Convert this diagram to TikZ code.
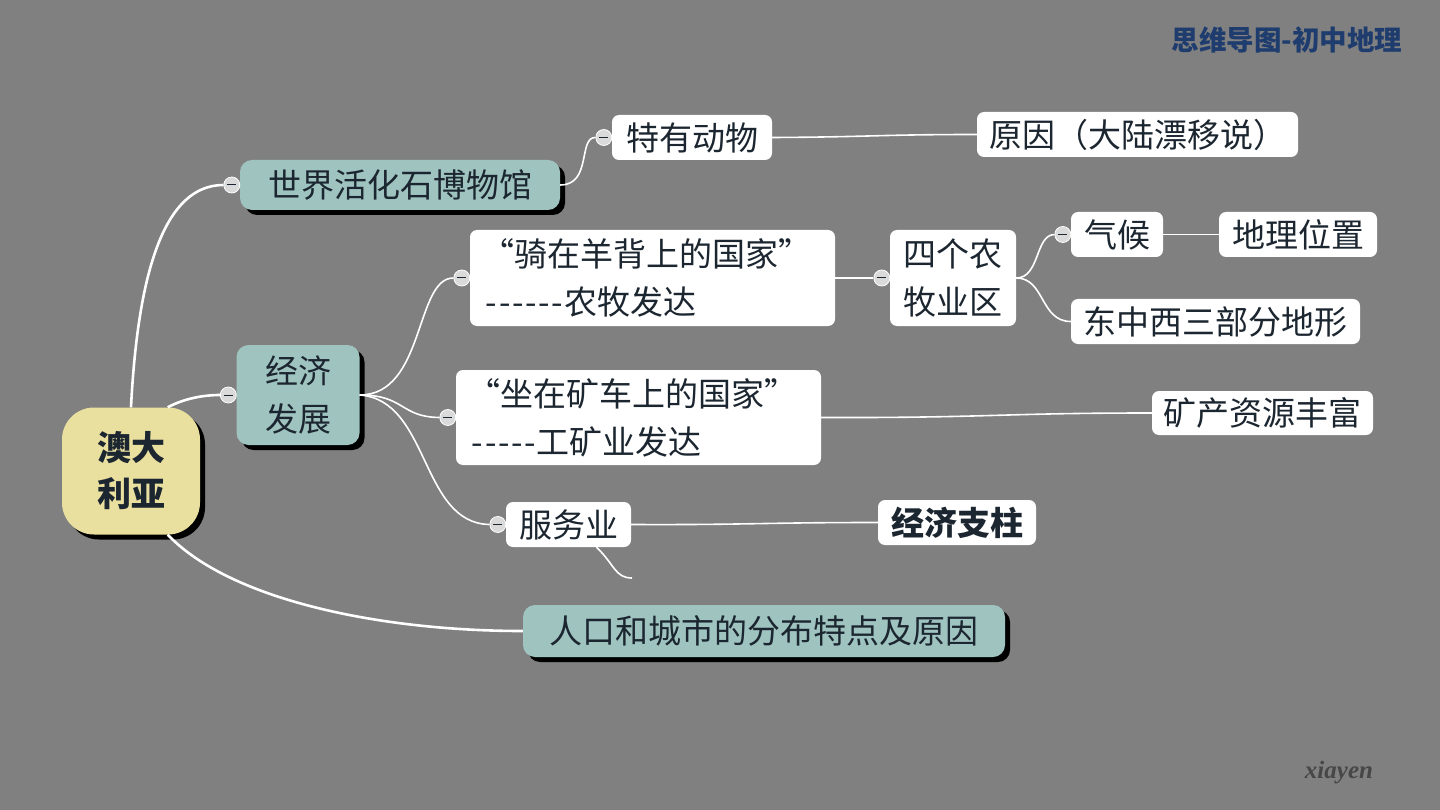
\documentclass[tikz,border=0pt]{standalone}
\usepackage{fontspec}
\setmainfont{Noto Sans CJK SC}[Ligatures=TeXOff]
\newfontfamily\signfont{Liberation Serif}
\usepackage{tikz}
\usetikzlibrary{calc,shadows}
\definecolor{mapBack}{HTML}{808080}
\definecolor{mapTeal}{HTML}{9FC4C0}
\definecolor{mapSand}{HTML}{E9E0A0}
\definecolor{mapInk}{HTML}{1C2630}
\definecolor{mapKnob}{HTML}{DADADA}
\definecolor{mapTitle}{HTML}{1F3C6E}
\newcommand{\bigtext}{\fontsize{33}{48}\selectfont}
\newcommand{\dashrun}[1]{\foreach \i in {1,...,#1}{\makebox[.4em]{-}}}

\begin{document}
\begin{tikzpicture}[x=1pt,y=-1pt]
  \tikzset{
    mapbox/.style={rounded corners=7pt,inner sep=0pt,align=center,text=mapInk,font=\bigtext},
    topic/.style={mapbox,fill=mapTeal,rounded corners=12pt,drop shadow={shadow xshift=5pt,shadow yshift=-5pt,opacity=1,fill=black}},
    leaf/.style={mapbox,fill=white},
    link/.style={draw=white,line width=1.6pt},
    trunk/.style={draw=white,line width=2.6pt},
    knob/.style={circle,draw=white,fill=mapKnob,line width=.8pt,minimum size=16pt,inner sep=0pt,
      path picture={\draw[mapInk,line width=1pt] ([xshift=-4.5pt]path picture bounding box.center) -- ([xshift=4.5pt]path picture bounding box.center);}}
  }
  \fill[mapBack] (0,0) rectangle (1440,810);
  \useasboundingbox (0,0) rectangle (1440,810);

  % corner marks
  \node[text=mapTitle,font=\fontsize{27.5}{30}\selectfont\bfseries] (title) at (1287,40) {思维导图-初中地理};
  \node[text=black!72,font=\signfont\fontsize{25}{28}\selectfont\bfseries\itshape] (sign) at (1339,773) {xiayen};

  % main topics
  \node[topic,fill=mapSand,rounded corners=32pt,minimum width=138pt,minimum height=127pt,font=\fontsize{34}{46}\selectfont\bfseries] (root) at (131,471) {澳大\\利亚};
  \node[topic,minimum width=320pt,minimum height=50pt] (fossil) at (400,185) {世界活化石博物馆};
  \node[topic,minimum width=123pt,minimum height=100pt] (econ) at (298,395) {经济\\发展};
  \node[topic,minimum width=482pt,minimum height=52pt] (people) at (764,631) {人口和城市的分布特点及原因};

  % leaves
  \node[leaf,minimum width=160pt,minimum height=45pt] (animal) at (692,137.5) {特有动物};
  \node[leaf,minimum width=321pt,minimum height=45pt] (drift) at (1137.5,134.5) {原因（大陆漂移说）};
  \node[leaf,align=left,inner xsep=15pt,text width=335pt,minimum height=96pt] (sheep) at (652.5,278) {\hspace*{-4pt}“骑在羊背上的国家”\\\dashrun{6}农牧发达};
  \node[leaf,minimum width=126pt,minimum height=96pt] (farm) at (953,278) {四个农\\牧业区};
  \node[leaf,minimum width=92pt,minimum height=45pt] (climate) at (1117,234.5) {气候};
  \node[leaf,minimum width=158pt,minimum height=45pt] (place) at (1298,234.5) {地理位置};
  \node[leaf,minimum width=289pt,minimum height=45pt] (terrain) at (1215.5,321.5) {东中西三部分地形};
  \node[leaf,align=left,inner xsep=15pt,text width=335pt,minimum height=95pt] (mine) at (638.5,417.5) {\hspace*{-4pt}“坐在矿车上的国家”\\\dashrun{5}工矿业发达};
  \node[leaf,minimum width=221pt,minimum height=44pt] (ore) at (1262.5,413) {矿产资源丰富};
  \node[leaf,minimum width=125pt,minimum height=45pt] (service) at (568.5,524.5) {服务业};
  \node[leaf,minimum width=158pt,minimum height=45pt,font=\bigtext\bfseries] (pillar) at (957,522.5) {经济支柱};
  \coordinate (stub) at (632,578);

  % knobs
  \node[knob] (kfossil) at ([xshift=-8pt]fossil.west) {};
  \node[knob] (kecon) at ([xshift=-8pt]econ.west) {};
  \node[knob] (kanimal) at ([xshift=-8pt]animal.west) {};
  \node[knob] (ksheep) at ([xshift=-8pt]sheep.west) {};
  \node[knob] (kmine) at ([xshift=-8pt]mine.west) {};
  \node[knob] (kservice) at ([xshift=-8pt]service.west) {};
  \node[knob] (kfarm) at ([xshift=-8pt]farm.west) {};
  \node[knob] (kclimate) at ([xshift=-8pt]climate.west) {};

  % links
  \draw[trunk] (root.north) .. controls (138,270) and (165,185) .. (kfossil.west);
  \draw[trunk] (root.60) .. controls (185,398) and (205,395) .. (kecon.west);
  \draw[trunk] (root.-60) .. controls (230,600) and (380,631) .. (people.west);
  \draw[link] (fossil.east) .. controls (592,185) and (578,137) .. (kanimal.west);
  \draw[link] (animal.east) .. controls (870,137) and (880,134.5) .. (drift.west);
  \draw[link] (econ.east) .. controls (425,395) and (415,278) .. (ksheep.west);
  \draw[link] (econ.east) .. controls (405,395) and (400,417) .. (kmine.west);
  \draw[link] (econ.east) .. controls (430,400) and (420,523) .. (kservice.west);
  \draw[link] (sheep.east) -- (kfarm.west);
  \draw[link] (farm.east) .. controls (1040,278) and (1035,235) .. (kclimate.west);
  \draw[link] (farm.east) .. controls (1045,278) and (1040,321.5) .. (terrain.west);
  \draw[link] (climate.east) -- (place.west);
  \draw[link] (mine.east) .. controls (990,418) and (1000,413) .. (ore.west);
  \draw[link] (service.east) .. controls (750,525) and (760,522.5) .. (pillar.west);
  \draw[link] ([xshift=28pt]service.south) .. controls (615,565) and (615,578) .. (stub);
\end{tikzpicture}
\end{document}
